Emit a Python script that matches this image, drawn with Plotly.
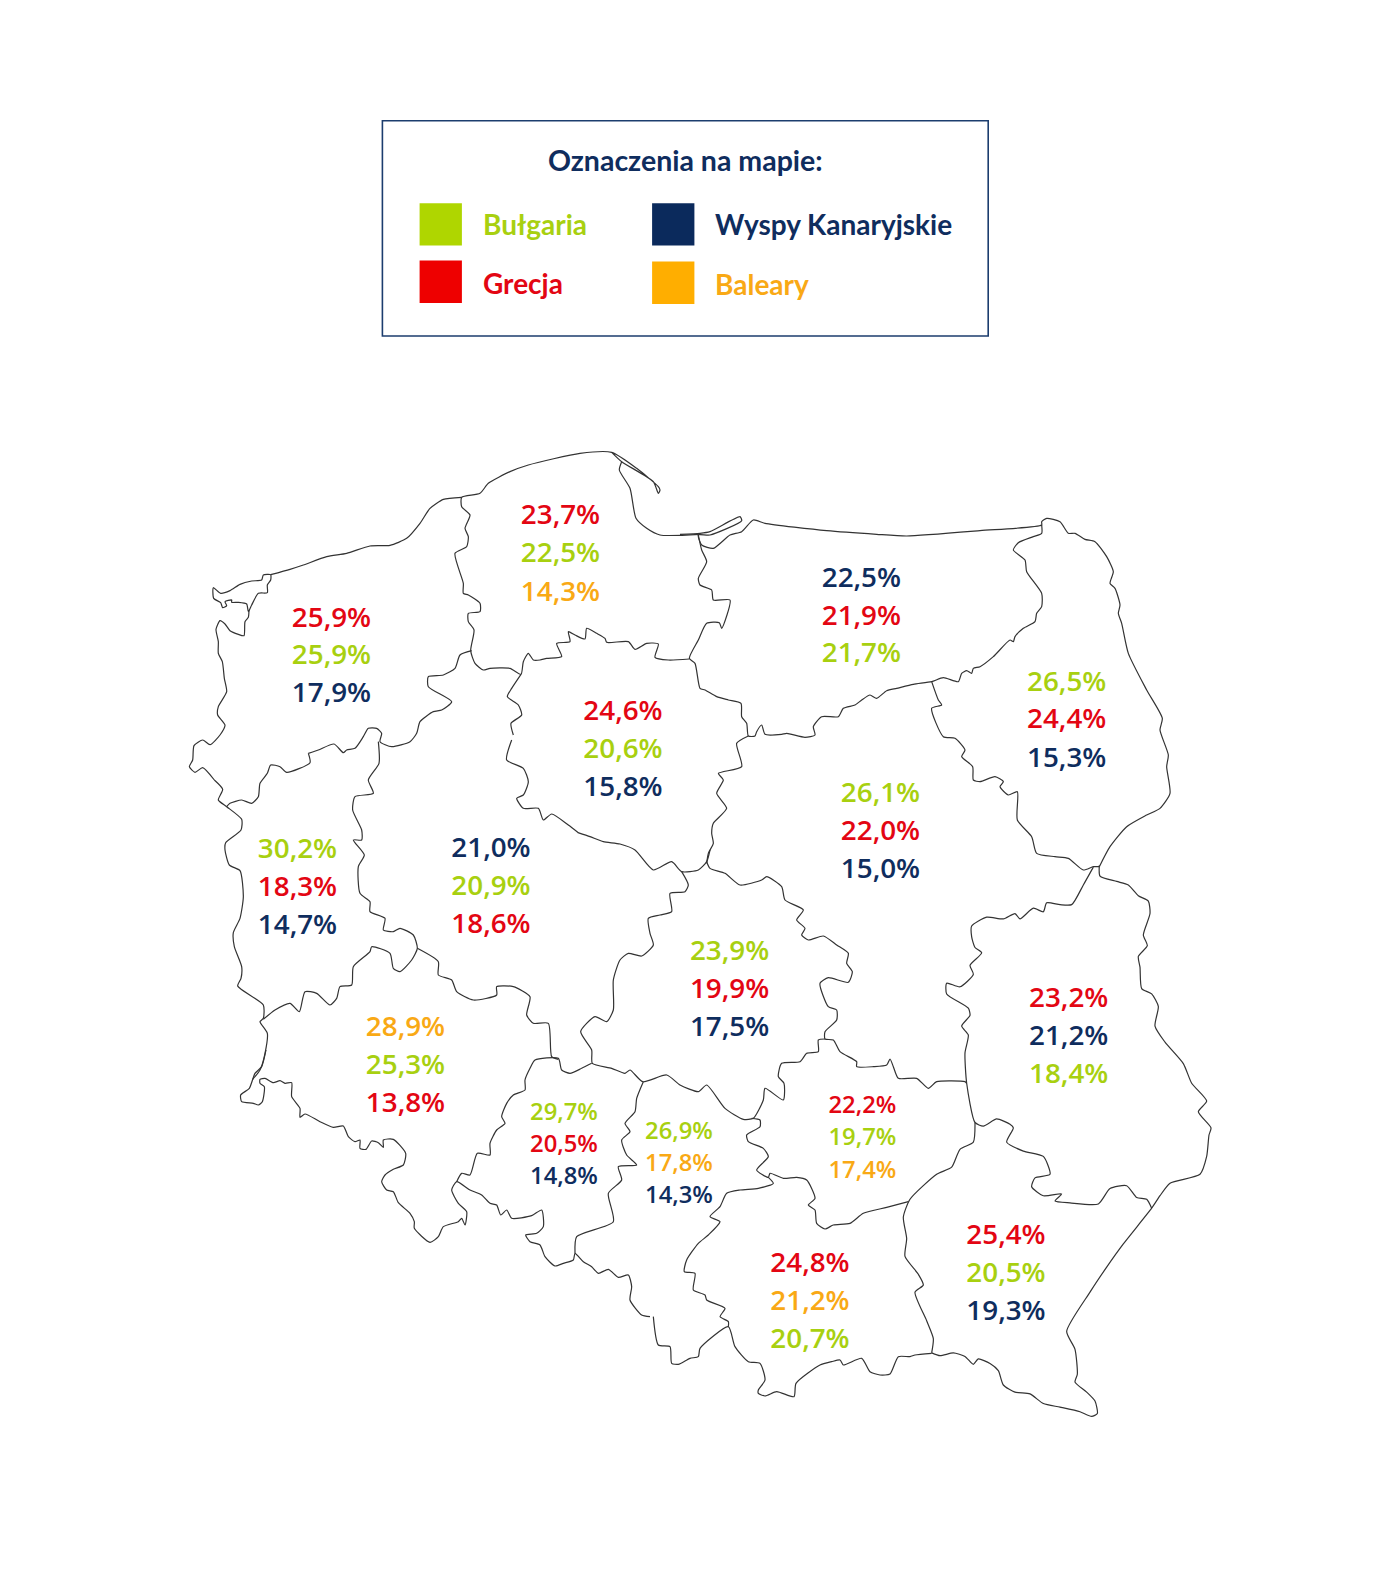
import plotly.graph_objects as go

W, H = 1400, 1577
NAVY, GREEN, RED, ORANGE = "#0f2d5e", "#a8d010", "#e30613", "#f9a915"

# ---------- values ----------
REGION_NAMES = ["zachodniopomorskie","pomorskie","warmińsko-mazurskie","podlaskie","kujawsko-pomorskie",
                "mazowieckie","lubuskie","wielkopolskie","łódzkie","dolnośląskie","lubelskie","opolskie",
                "śląskie","świętokrzyskie","małopolskie","podkarpackie"]
REGION_DESTINATIONS = [["G","B","W"],["G","B","L"],["W","G","B"],["B","G","W"],["G","B","W"],
                       ["B","G","W"],["B","G","W"],["W","B","G"],["B","G","W"],["L","B","G"],
                       ["G","W","B"],["B","G","W"],["B","L","W"],["G","B","L"],["G","L","B"],["G","B","W"]]
REGION_SHARES = [[25.9,25.9,17.9],[23.7,22.5,14.3],[22.5,21.9,21.7],[26.5,24.4,15.3],[24.6,20.6,15.8],
                 [26.1,22.0,15.0],[30.2,18.3,14.7],[21.0,20.9,18.6],[23.9,19.9,17.5],[28.9,25.3,13.8],
                 [23.2,21.2,18.4],[29.7,20.5,14.8],[26.9,17.8,14.3],[22.2,19.7,17.4],[24.8,21.2,20.7],[25.4,20.5,19.3]]
LABEL_X = [331.5,560.5,861.4,1066.7,623,880.5,297.5,491,729.6,405.5,1068.7,564,679,862.4,810,1006]
LABEL_Y = [[620,657,695],[517.5,555,594],[580,618,655],[684,721.5,760],[713,751.5,789],
           [795,833,871],[851,889.5,927],[850,888.5,926],[953,991,1029],[1029,1067,1105],
           [1000,1038,1076.5],[1114,1146,1178],[1133,1165,1197],[1107,1139,1172],[1265,1303,1341],[1237.5,1275,1313]]
LABEL_SIZE = [27.8,27.8,27.8,27.8,27.8,27.8,27.8,27.8,27.8,27.8,27.8,23.8,23.8,23.8,27.8,27.8]
DEST_COLOR = {"B":GREEN,"G":RED,"W":NAVY,"L":ORANGE}

# ---------- outlines: frame -> (x0, y0, x scale, y scale) ----------
FRAMES = {"a":(180,440,3,3),"b":(450,440,3,3),"c":(680,500,3,3),"d":(180,740,3,3),"e":(570,850,3,3),
          "f":(230,1040,3,3),"g":(620,1100,3,3),"h":(890,860,3,2.8)}
BORDERS = [
("a",[(272,404),(250,405),(245,420),(215,423),(180,433),(150,452),(122,460),(100,443),(101,475),(122,488),(128,503),(140,497),(135,485),(155,480),(155,487),(175,487),(200,492),(205,515),(215,495),(235,460),(262,458),(262,435),(272,420),(272,404)]),
("a",[(272,404),(330,388),(370,375),(440,350),(500,340),(570,318),(630,316),(680,295),(720,250),(750,205),(790,178),(845,172)]),
("a",[(207,510),(205,532),(195,545),(192,587),(175,583),(150,572),(135,552),(120,542),(108,568),(115,605),(115,640),(127,665),(133,715),(140,755),(115,800),(113,825),(135,855),(120,885),(90,914),(68,900),(42,917),(38,960),(28,980),(45,997),(68,983),(103,1020)]),
("d",[(103,120),(128,148),(115,180),(140,200),(185,238),(183,270),(137,308),(135,330),(148,375),(180,392),(190,470),(180,535),(160,578),(163,620),(185,680),(183,715),(173,738),(250,795),(250,835),(240,845),(262,880),(255,940),(240,990),(218,1018)]),
("f",[(108,30),(95,80),(75,100),(58,145),(32,165),(35,185),(70,190),(85,195),(97,185),(103,140),(90,130),(90,118),(105,115),(130,128),(150,122),(165,130),(185,128),(185,170),(210,205),(210,232),(225,222),(270,245),(310,262),(340,258),(355,290),(375,305),(390,300),(390,325),(408,328),(425,303),(445,308),(460,322),(460,300),(490,298),(527,340),(520,375),(490,388),(465,405),(455,425),(470,450),(490,455),(505,488),(540,520),(553,545),(553,565),(600,607),(625,590),(640,560),(685,545),(695,535),(705,555),(710,515),(685,490),(665,450),(680,425),(720,450),(755,465),(780,490),(800,495),(812,525),(830,510),(845,535),(905,527),(935,510),(940,560),(920,580),(887,585),(900,605),(930,615),(945,650),(975,678),(1000,670),(1030,660),(1035,640),(1060,665),(1085,680),(1105,700),(1135,688),(1165,712),(1195,705),(1205,740),(1200,780),(1235,825),(1260,830)]),
("g",[(100,650),(115,735),(150,740),(155,790),(175,793),(210,775),(235,770),(240,745),(325,680),(345,740),(385,785),(420,790),(435,840),(415,870),(415,880),(435,888),(470,875),(522,890),(528,850),(600,795),(635,785),(660,780),(670,795),(725,775),(750,815),(780,825),(810,822),(835,770),(870,770),(885,765),(935,760)]),
("h",[(125,1380),(150,1388),(190,1380),(225,1390),(250,1412),(265,1397),(300,1410),(325,1430),(340,1470),(375,1490),(420,1495),(460,1522),(510,1532),(570,1545),(605,1558),(622,1550),(615,1515),(590,1490),(555,1462),(562,1440),(555,1370),(530,1320),(600,1210),(650,1140),(700,1075),(785,975),(810,940),(840,905),(930,880),(950,830),(957,770),(963,750),(925,705),(950,675),(905,625),(880,570),(825,510),(795,465),(805,410),(785,375),(755,360),(750,300),(745,270),(772,240),(760,210),(780,150),(775,115),(745,100),(715,70),(680,60),(630,45),(628,15)]),
("c",[(1258,1100),(1290,1040),(1340,980),(1400,945),(1440,925),(1470,880),(1460,800),(1465,765),(1440,690),(1447,655),(1400,570),(1345,460),(1325,370),(1315,340),(1320,315),(1305,265),(1290,250),(1300,215),(1280,170),(1245,125),(1215,118),(1185,100),(1165,100),(1140,65),(1100,55),(1085,65),(1085,75),(900,92),(680,108),(590,103),(440,92),(255,70),(220,60),(185,95),(150,105),(100,145),(65,135),(55,105),(90,105),(185,62),(180,50),(90,95),(60,100),(0,103)]),
("c",[(1085,75),(1085,100),(1060,110),(1015,128),(1000,150),(1035,180),(1040,215),(1085,280),(1085,320),(1070,340),(1065,365),(1030,385),(1005,410),(1000,425),(990,420),(940,470),(900,500),(880,505),(875,520),(860,512),(845,520),(835,545),(790,533),(755,545),(700,553),(650,565),(620,572),(590,595),(570,585),(545,600),(525,615),(490,625),(475,650),(425,650),(400,680),(405,705),(375,712),(320,700),(305,703),(255,703),(245,675),(230,695),(225,708),(205,708),(200,670),(185,650),(183,610),(145,600),(110,590),(75,570),(60,565),(45,490),(28,475),(55,420),(80,370),(118,368),(125,385),(150,300),(100,300),(95,270),(60,255),(55,235),(80,185),(65,150),(55,105)]),
("b",[(718,657),(655,660),(615,652),(625,612),(590,610),(555,628),(535,605),(470,607),(465,595),(440,580),(410,565),(405,597),(375,585),(355,575),(360,605),(320,610),(335,650),(290,655),(270,660),(250,660),(235,640),(220,665),(213,703),(180,685),(120,685),(100,690),(75,670),(62,632),(72,570),(55,545),(55,520),(90,515),(90,490),(55,465),(40,460),(40,430),(15,340),(50,320),(55,290),(45,265),(60,225),(35,200),(35,172),(90,160),(115,130),(180,95),(235,75),(390,40),(485,37),(560,85),(625,140),(630,150),(625,160),(610,125),(515,65),(485,37)]),
("b",[(515,65),(508,90),(540,145),(558,235),(590,265),(630,285),(750,283)]),
("b",[(213,703),(185,745),(172,770),(205,795),(215,825),(183,850),(190,885)]),
("d",[(995,0),(980,60),(1030,85),(1045,125),(1030,165),(1010,175),(1030,205),(1075,205),(1090,240),(1115,222),(1165,255),(1195,278)]),
("e",[(24,-52),(60,-40),(100,-25),(150,-18),(195,0),(250,60),(305,35),(335,65),(385,60),(410,35),(420,0)]),
("c",[(80,1090),(85,1060),(100,1030),(95,1000),(100,970),(140,925),(110,880),(130,840),(115,820),(185,800),(170,730),(205,708)]),
("e",[(410,35),(420,55),(465,70),(510,105),(575,90),(590,80),(635,110),(645,150),(700,180),(680,210),(705,235),(695,255),(715,270),(760,258),(800,285),(835,310),(830,340),(847,365),(835,397),(775,383),(750,400),(775,470),(800,480),(800,510),(765,545),(765,567),(790,570),(810,605),(860,635),(860,650),(910,650),(950,645),(960,627),(970,650),(985,685),(1040,685),(1075,715),(1100,695),(1185,695),(1190,700)]),
("e",[(335,65),(355,105),(345,125),(300,130),(305,185),(270,195),(235,205),(240,250),(250,285),(215,318),(175,310),(150,330),(130,390),(130,480),(110,515),(75,500),(32,545),(65,600),(67,640),(125,655),(165,670),(180,660),(218,695),(290,675),(330,705),(385,725),(410,705),(465,775),(520,808),(550,805),(580,750),(585,715),(640,750),(642,700),(625,680),(635,640),(690,635),(710,610),(745,605),(745,570),(765,567)]),
("h",[(610,20),(580,70),(545,125),(510,125),(470,120),(460,145),(430,135),(390,165),(375,150),(340,165),(290,160),(245,185),(245,215),(255,245),(275,260),(240,295),(250,320),(210,355),(170,345),(170,375),(235,415),(240,435),(215,465),(235,490),(225,540),(230,625),(255,735),(280,745),(320,725),(360,740),(370,750),(350,790),(400,815),(460,830),(480,880),(435,890),(425,915),(460,940),(515,935),(495,955),(540,960),(625,963),(660,920),(710,912),(740,945),(770,950),(785,975)]),
("h",[(255,735),(250,790),(210,810),(185,860),(140,880),(60,950),(40,1000),(50,1060),(45,1110),(85,1160),(100,1190),(75,1210),(110,1290),(130,1340),(125,1380)]),
("g",[(865,305),(800,322),(730,340),(690,370),(640,375),(615,387),(590,370),(585,330),(565,315),(585,295),(560,240),(530,232),(490,235),(450,220),(445,232),(410,210),(445,170),(430,145),(385,125),(380,105),(420,80),(420,60),(395,55)]),
("g",[(445,232),(460,250),(415,265),(360,270),(320,280),(300,320),(270,350),(300,365),(265,405),(235,430),(200,480),(193,515),(225,520),(220,570),(255,585),(260,600),(315,625),(300,650),(325,665),(325,680)]),
("f",[(1240,125),(1220,175),(1215,215),(1185,250),(1200,275),(1175,300),(1190,345),(1220,375),(1165,380),(1175,420),(1135,460),(1150,545),(1040,590),(1035,640)]),
("f",[(680,425),(695,400),(720,405),(742,340),(780,345),(780,310),(800,270),(825,250),(815,230),(830,190),(850,165),(885,150),(885,120),(900,85),(915,60),(985,55),(995,90),(1020,100),(1055,85),(1085,70)]),
("d",[(712,625),(775,665),(775,705),(815,720),(830,755),(880,780),(950,765),(950,740),(1000,740),(1050,770),(1040,825),(1060,850),(1105,850),(1115,950),(1135,958)]),
("a",[(875,632),(840,645),(825,685),(790,705),(745,710),(745,740),(815,785),(785,810),(760,815),(720,845),(710,880),(690,905),(635,920),(600,905),(605,880),(590,865),(565,865),(550,890),(525,925),(500,930),(490,938),(462,912),(415,930),(385,940)]),
("d",[(385,40),(390,68),(320,97),(300,80),(272,75),(262,100),(240,130),(235,170),(215,190),(185,180),(150,190),(140,200)]),
("d",[(595,5),(597,70),(565,120),(580,160),(525,170),(518,210),(545,270),(545,300),(520,300),(553,345),(535,380),(540,460),(570,485),(570,515),(615,535),(610,570),(640,575),(660,565),(700,585),(712,625),(695,660),(660,695),(640,685),(630,640),(575,620),(570,635),(520,680),(515,735),(480,740),(470,775),(450,795),(410,760),(375,755),(358,815),(330,790),(285,810),(250,838)]),
("c",[(755,545),(775,600),(785,615),(755,625),(790,710),(825,715),(855,750),(845,770),(878,800),(880,840),(900,845),(945,830),(970,845),(960,860),(985,885),(1012,875),(1012,960),(1055,1010),(1070,1060),(1125,1070),(1165,1075),(1210,1110),(1240,1100),(1258,1100)]),
]

LEGEND_TITLE = "Oznaczenia na mapie:"
LEGEND_LABELS = ["Bułgaria","Grecja","Wyspy Kanaryjskie","Baleary"]
LEGEND_COLORS = [GREEN,RED,NAVY,ORANGE]
LEGEND_FILL = ["#afd600","#ee0000","#0b2a5c","#ffae00"]
LEGEND_SWATCH = [(419.6,203.3),(419.6,260.6),(652.1,203.3),(652.1,261.6)]
LEGEND_TEXT = [(481,224),(481,282.5),(713,224),(713,284)]

LABEL_FONT = "Open Sans"
LEGEND_FONT = "Lato"
fig = go.Figure()

xs, ys = [], []
for frame, pts in BORDERS:
    x0, y0, sx, sy = FRAMES[frame]
    xs += [x0 + p[0] / sx for p in pts] + [None]
    ys += [y0 + p[1] / sy for p in pts] + [None]
fig.add_trace(go.Scatter(x=xs, y=ys, mode="lines", hoverinfo="skip", showlegend=False,
                         line=dict(color="#333333", width=1.2, shape="spline", smoothing=0.6)))

for i, name in enumerate(REGION_NAMES):
    for dest, share, y in zip(REGION_DESTINATIONS[i], REGION_SHARES[i], LABEL_Y[i]):
        fig.add_trace(go.Scatter(x=[LABEL_X[i]], y=[y], mode="text", showlegend=False, name=name,
                                 text=[f"{share:.1f}%".replace(".", ",")], textposition="middle center",
                                 textfont=dict(family=LABEL_FONT, size=LABEL_SIZE[i], color=DEST_COLOR[dest], weight=600)))

shapes = [dict(type="rect", x0=382.4, y0=120.8, x1=988.2, y1=336, line=dict(color="#1c3d6e", width=1.6))]
for (sx, sy), c in zip(LEGEND_SWATCH, LEGEND_FILL):
    shapes.append(dict(type="rect", x0=sx, y0=sy, x1=sx + 42.3, y1=sy + 42.3, fillcolor=c, line=dict(width=0)))

ann = [dict(x=685.3, y=160, text=LEGEND_TITLE, showarrow=False, xanchor="center", yanchor="middle",
            font=dict(family=LEGEND_FONT, size=28.5, color=NAVY, weight=700))]
for (tx, ty), lab, c in zip(LEGEND_TEXT, LEGEND_LABELS, LEGEND_COLORS):
    ann.append(dict(x=tx, y=ty, text=lab, showarrow=False, xanchor="left", yanchor="middle",
                    font=dict(family=LEGEND_FONT, size=28, color=c, weight=700)))

fig.update_layout(width=W, height=H, margin=dict(l=0, r=0, t=0, b=0), paper_bgcolor="white", plot_bgcolor="white",
                  xaxis=dict(range=[0, W], visible=False, fixedrange=True),
                  yaxis=dict(range=[H, 0], visible=False, fixedrange=True),
                  shapes=shapes, annotations=ann, showlegend=False)
fig.write_html("out.html", config=dict(displayModeBar=False),
               post_script="document.body.style.margin='0';document.body.style.overflow='hidden';")
